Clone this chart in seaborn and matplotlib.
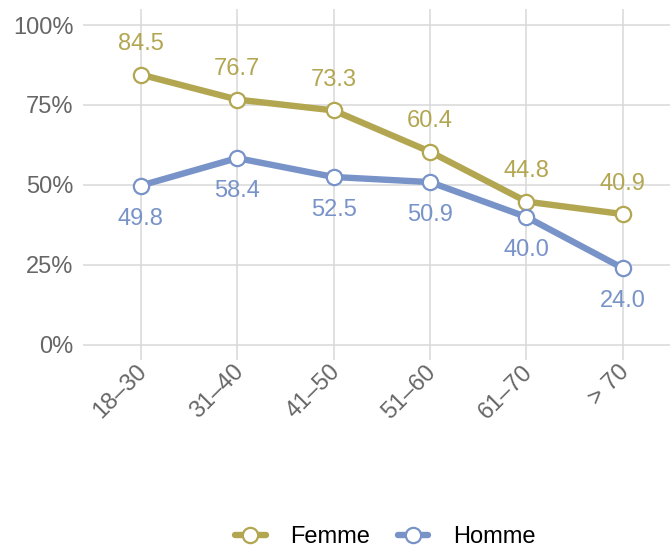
import seaborn as sns
import matplotlib.pyplot as plt
import matplotlib.transforms as mtransforms
import pandas as pd
from matplotlib.lines import Line2D

# Data
age_groups = ['18–30', '31–40', '41–50', '51–60', '61–70', '> 70']
femme = [84.5, 76.7, 73.3, 60.4, 44.8, 40.9]
homme = [49.8, 58.4, 52.5, 50.9, 40.0, 24.0]
series = ['Femme', 'Homme']
colors = {'Femme': '#b3a651', 'Homme': '#7893c8'}

df = pd.DataFrame({
    'age': age_groups * 2,
    'pct': femme + homme,
    'sexe': ['Femme'] * len(femme) + ['Homme'] * len(homme),
})
df['x'] = df.groupby('sexe').cumcount()

sns.set_style('white')
plt.rcParams['font.family'] = ['Liberation Sans', 'DejaVu Sans']

fig = plt.figure(figsize=(6.7, 5.49), dpi=100)
ax = fig.add_axes([0.1239, 0.3443, 0.8761, 0.6393])

ax.grid(True, color='#d9d9d9', linewidth=1.1)
ax.set_axisbelow(True)

sns.lineplot(data=df, x='x', y='pct', hue='sexe', palette=colors,
             linewidth=4.6, legend=False, ax=ax, zorder=3)
for s in series:
    sub = df[df['sexe'] == s]
    ax.plot(sub['x'], sub['pct'], linestyle='none', marker='o', markersize=11,
            markerfacecolor='white', markeredgecolor=colors[s],
            markeredgewidth=1.6, zorder=4)
    for xi, yi in zip(sub['x'], sub['pct']):
        off = 22 if s == 'Femme' else -24
        ax.annotate(f'{yi:.1f}', (xi, yi), xytext=(0, off), textcoords='offset points',
                    ha='center', va='center', fontsize=17, color=colors[s])

ax.set_xlim(-0.6, 5.49)
ax.set_ylim(-4.7, 105)
ax.set_xticks(range(len(age_groups)))
ax.set_xticklabels([])
# rotated category labels, placed by hand under each tick
shift = mtransforms.ScaledTranslation(-5 / 100, -1 / 100, fig.dpi_scale_trans)
for i, lbl in enumerate(age_groups):
    ax.text(i, 0, lbl, transform=ax.get_xaxis_transform() + shift,
            rotation=45, ha='right', va='top', rotation_mode='anchor',
            fontsize=17, color='#666666')
ax.set_yticks([0, 25, 50, 75, 100])
ax.set_yticklabels(['0%', '25%', '50%', '75%', '100%'], fontsize=17, color='#666666')
ax.tick_params(axis='x', length=0, pad=0)
ax.tick_params(axis='y', length=0, pad=7)
ax.set_xlabel('')
ax.set_ylabel('')
for sp in ax.spines.values():
    sp.set_visible(False)

handles = [Line2D([0], [0], color=colors[s], linewidth=4.6, marker='o', markersize=11,
                  markerfacecolor='white', markeredgecolor=colors[s], markeredgewidth=1.6)
           for s in series]
fig.legend(handles, series, loc='center', bbox_to_anchor=(0.575, 0.022), ncol=2,
           frameon=False, fontsize=17, handlelength=1.3, columnspacing=1.15,
           handletextpad=1.05, labelcolor='black')

fig.savefig('out.png', dpi=100)
